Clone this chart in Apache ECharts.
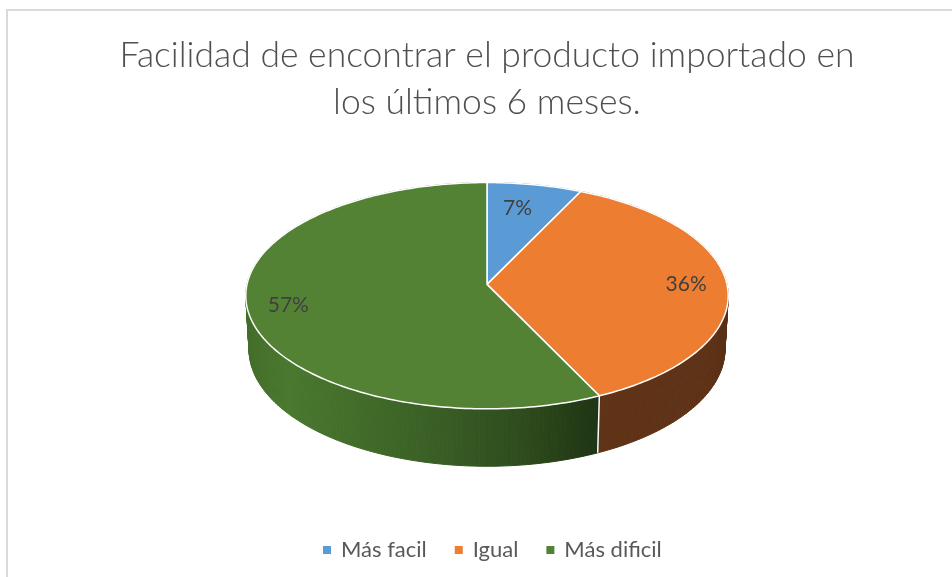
<!DOCTYPE html>
<html><head><meta charset="utf-8">
<script src="https://cdn.jsdelivr.net/npm/echarts@6/dist/echarts.min.js"></script>
<style>html,body{margin:0;padding:0;background:#fff}#c{width:952px;height:577px}</style>
</head><body><div id="c"></div>
<script>
// ---- data ----
const categories = ['Más facil', 'Igual', 'Más dificil'];
const values = [7, 36, 57];
const titleLines = ['Facilidad de encontrar el producto importado en', 'los últimos 6 meses.'];

// ---- styles ----
const palette = ['#5B9BD5', '#ED7D31', '#548235'];
const sideStops = [
  [[0, '#2f5e8a'], [1, '#2f5e8a']],
  [[0, '#603317'], [0.8, '#5e3216'], [1, '#582e14']],
  [[0, '#426c29'], [0.12, '#4a782e'], [0.5, '#3b6126'], [0.8, '#2d4a1c'], [1, '#1f3413']]
];

// ---- projection of a tilted cylinder (radius 1, thickness T) ----
const CX = 487, CY = 284.4, F = 240, SA = 0.4667, CA = 0.8844, K = 0.113, T = 0.255;
function proj(X, Y, Z) {
  const d = 1 + K * (Z * CA - Y * SA);
  return [CX + F * X / d, CY - F * (Y * CA + Z * SA) / d];
}
function rim(th, Y, r) { r = r == null ? 1 : r; return proj(r * Math.sin(th), Y, r * Math.cos(th)); }
const total = values.reduce((a, b) => a + b, 0);
const starts = []; (function () { let acc = 0; values.forEach(v => { starts.push(acc); acc += v; }); })();
function ang(v) { return v / total * 2 * Math.PI; }
const STEP = Math.PI / 180;

function renderSide(params, api) {
  const i = params.dataIndex;
  const a0 = ang(starts[i]), a1 = ang(starts[i] + api.value(0));
  const n = Math.max(1, Math.ceil((a1 - a0) / STEP));
  const tp = [], bt = [];
  let xmin = Infinity, xmax = -Infinity;
  for (let j = 0; j <= n; j++) {
    const th = a0 + (a1 - a0) * j / n;
    const p = rim(th, 0), q = rim(th, -T);
    tp.push(p); bt.push(q);
    if (Math.cos(th) <= 0.1) { xmin = Math.min(xmin, p[0], q[0]); xmax = Math.max(xmax, p[0], q[0]); }
  }
  if (!isFinite(xmin)) { xmin = CX - F; xmax = CX + F; }
  const grad = new echarts.graphic.LinearGradient(xmin, 0, xmax, 0,
    sideStops[i].map(s => ({ offset: s[0], color: s[1] })), true);
  const children = [];
  for (let j = 0; j < n; j++) {
    children.push({ type: 'polygon', shape: { points: [tp[j], tp[j + 1], bt[j + 1], bt[j]] },
      style: { fill: grad, stroke: grad, lineWidth: 1 } });
  }
  if (Math.cos(a0) < 0) {
    children.push({ type: 'line', z2: 50, shape: { x1: tp[0][0], y1: tp[0][1], x2: bt[0][0], y2: bt[0][1] },
      style: { stroke: '#ffffff', lineWidth: 1.5 } });
  }
  return { type: 'group', children: children };
}

function makeTop(i) {
  return function (params, api) {
    const a0 = ang(starts[i]), a1 = ang(starts[i] + api.value(0));
    const n = Math.max(2, Math.ceil((a1 - a0) / STEP));
    const pts = [proj(0, 0, 0)];
    for (let j = 0; j <= n; j++) pts.push(rim(a0 + (a1 - a0) * j / n, 0));
    const mid = (a0 + a1) / 2;
    // label placed inside the slice, a bit further out on the wide sides
    const rho = 0.72 + 0.11 * Math.abs(Math.sin(mid));
    const lp = rim(mid, 0, rho);
    return { type: 'group', children: [
      { type: 'polygon', shape: { points: pts },
        style: { fill: palette[i], stroke: '#ffffff', lineWidth: 1.5, lineJoin: 'round' } },
      { type: 'text', z2: 100, style: { text: Math.round(api.value(0) / total * 100) + '%',
        x: lp[0] - 6 * Math.cos(mid) * Math.sign(Math.sin(mid)), y: lp[1], align: 'center', verticalAlign: 'middle',
        fill: '#404040', fontSize: 21, fontFamily: 'Lato' } }
    ] };
  };
}

const series = [{
  type: 'custom', name: 'sides', coordinateSystem: 'none', z: 1, silent: true,
  data: values.map(v => [v]), renderItem: renderSide
}];
categories.forEach((c, i) => {
  series.push({ type: 'custom', name: c, coordinateSystem: 'none', z: 3,
    itemStyle: { color: palette[i] }, data: [[values[i]]], renderItem: makeTop(i) });
});

const chart = echarts.init(document.getElementById('c'), null, { renderer: 'canvas' });
chart.setOption({
  animation: false,
  backgroundColor: '#ffffff',
  color: palette,
  title: {
    text: titleLines.join('\n'), left: 487, top: 32, padding: 0, textAlign: 'center',
    textStyle: { fontFamily: 'Lato', fontWeight: 300, fontSize: 35.5, color: '#4f4f4f', lineHeight: 47 }
  },
  legend: {
    data: categories, top: 534, left: 318, icon: 'rect', itemWidth: 8, itemHeight: 8, itemGap: 28,
    textStyle: { fontFamily: 'Lato', fontSize: 22, color: '#595959', padding: [0, 0, 0, 5] }
  },
  graphic: [{ type: 'rect', silent: true, shape: { x: 7, y: 10, width: 960, height: 580 },
    style: { fill: 'none', stroke: '#d9d9d9', lineWidth: 2 } }],
  series: series
});
</script></body></html>
